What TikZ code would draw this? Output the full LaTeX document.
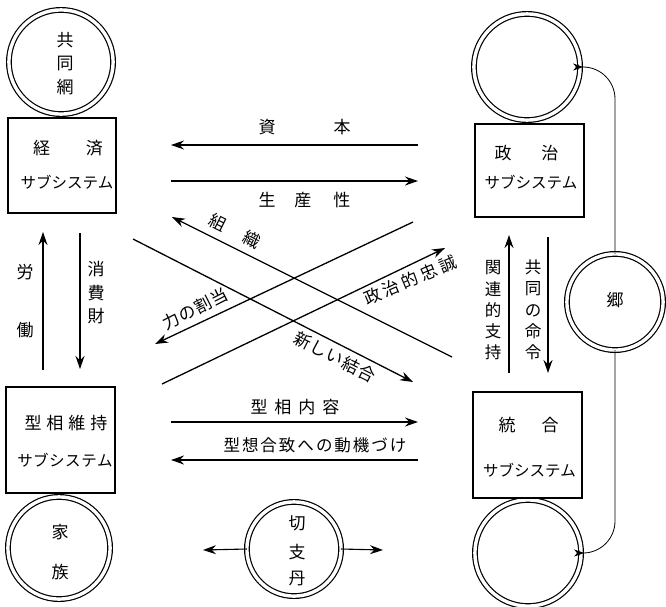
\documentclass[tikz,border=0pt]{standalone}
\usepackage{fontspec}
\newfontfamily\jp{Noto Sans CJK JP}
\usetikzlibrary{arrows.meta}
\begin{document}
\begin{tikzpicture}[x=1pt,y=-1pt,
  ln/.style={line width=1.3pt},
  arr/.style={ln,-{Stealth[length=13pt,width=9pt]}},
  thinarr/.style={line width=0.8pt,-{Stealth[length=10pt,width=7pt,inset=3pt]},rounded corners=32pt},
  dcirc/.style={circle,draw,double,double distance=3.4pt,line width=1.2pt,inner sep=0pt,outer sep=0pt},
  box/.style={draw,rectangle,line width=1.2pt,inner sep=0pt,outer sep=0pt},
  lbl/.style={font=\jp\fontsize{17}{20}\selectfont,inner sep=0pt},
  kana/.style={font=\jp\fontsize{15.5}{18}\selectfont,inner sep=0pt},
  vlbl/.style={font=\jp\fontsize{16.5}{21.25}\selectfont,inner sep=0pt,align=center}]
\useasboundingbox (0,0) rectangle (666,606);

% circles
\node[dcirc,minimum size=104.2pt] (tl) at (61,62) {};
\node[dcirc,minimum size=102.2pt] (bl) at (59,548) {};
\node[dcirc,minimum size=106.2pt] (tr) at (527,67) {};
\node[dcirc,minimum size=106.2pt] (br) at (528,553) {};
\node[dcirc,minimum size=96.2pt] (go) at (615,302) {};
\node[dcirc,minimum size=94.2pt] (ks) at (294,549) {};

% boxes
\node[box,minimum width=108pt,minimum height=95pt] (econ) at (62,165.5) {};
\node[box,minimum width=109pt,minimum height=106pt] (patt) at (60.5,440) {};
\node[box,minimum width=109pt,minimum height=93pt] (pol) at (529.5,170.5) {};
\node[box,minimum width=109pt,minimum height=106pt] (integ) at (527.5,445) {};

% circle texts
\node[lbl] (t1) at (65,40) {共};
\node[lbl] (t2) at (65,63) {同};
\node[lbl] (t3) at (65,87) {網};
\node[lbl] (f1) at (60,532) {家};
\node[lbl] (f2) at (60,572) {族};
\node[lbl] (k1) at (297,523) {切};
\node[lbl] (k2) at (297,552) {支};
\node[lbl] (k3) at (297,578) {丹};
\node[lbl] (gl) at (615,300) {郷};

% box texts
\node[lbl] (e1) at (68,148) {経\hspace{36pt}済};
\node[kana] (e2) at (67,182) {サブシステム};
\node[lbl] (p1) at (66,423) {型\hspace{5pt}相\hspace{5pt}維\hspace{5pt}持};
\node[kana] (p2) at (65,460) {サ\hspace{0.5pt}ブ\hspace{0.5pt}シ\hspace{0.5pt}ス\hspace{0.5pt}テ\hspace{0.5pt}ム};
\node[lbl] (o1) at (526.5,153) {政\hspace{30pt}治};
\node[kana] (o2) at (531,182) {サブシステム};
\node[lbl] (i1) at (528.5,425) {統\hspace{26pt}合};
\node[kana] (i2) at (529.5,470) {サブシステム};

% horizontal arrows
\coordinate (hL1) at (171,145); \coordinate (hR1) at (418,145);
\coordinate (hL2) at (171,181); \coordinate (hR2) at (418,181);
\coordinate (hL3) at (171,422); \coordinate (hR3) at (418,422);
\coordinate (hL4) at (171,460); \coordinate (hR4) at (418,460);
\draw[arr] (hR1) -- (hL1);
\draw[arr] (hL2) -- (hR2);
\draw[arr] (hL3) -- (hR3);
\draw[arr] (hR4) -- (hL4);
\node[lbl] (l1) at (304.5,127) {資\hspace{58pt}本};
\node[lbl] (l2) at (304.5,200) {生\hspace{19pt}産\hspace{22pt}性};
\node[lbl] (l3) at (295,407) {型\hspace{7pt}相\hspace{7pt}内\hspace{7pt}容};
\node[lbl,font=\jp\fontsize{16.5}{20}\selectfont] (l4) at (315,445) {型\hspace{2pt}想\hspace{2pt}合\hspace{2pt}致\hspace{2pt}へ\hspace{2pt}の\hspace{2pt}動\hspace{2pt}機\hspace{2pt}づ\hspace{2pt}け};

% diagonal arrows
\coordinate (dA1) at (452,357); \coordinate (dA2) at (172,217);
\coordinate (dB1) at (133,239); \coordinate (dB2) at (413,382);
\coordinate (dC1) at (162,384); \coordinate (dC2) at (445,248);
\coordinate (dD1) at (413,222); \coordinate (dD2) at (155,344);
\draw[arr] (dA1) -- (dA2);
\draw[arr] (dB1) -- (dB2);
\draw[arr] (dC1) -- (dC2);
\draw[arr] (dD1) -- (dD2);
\node[lbl,rotate=-26.6] (l5) at (235,231) {組\hspace{22pt}織};
\node[lbl,rotate=-26.6] (l6) at (335,357) {新\hspace{1pt}し\hspace{1pt}い\hspace{1pt}結\hspace{1pt}合};
\node[lbl,rotate=27] (l7) at (195,309) {力\hspace{1pt}の\hspace{1pt}割\hspace{1pt}当};
\node[lbl,rotate=23] (l8) at (410,280) {政\hspace{3.4pt}治\hspace{3.4pt}的\hspace{3.4pt}忠\hspace{3.4pt}誠};

% vertical arrows
\coordinate (vA1) at (43,370); \coordinate (vA2) at (43,232);
\coordinate (vB1) at (80,233); \coordinate (vB2) at (80,369);
\coordinate (vC1) at (509,373); \coordinate (vC2) at (509,235);
\coordinate (vD1) at (548,237); \coordinate (vD2) at (548,373);
\draw[arr] (vA1) -- (vA2);
\draw[arr] (vB1) -- (vB2);
\draw[arr] (vC1) -- (vC2);
\draw[arr] (vD1) -- (vD2);
\node[lbl] (w1) at (25,272) {労};
\node[lbl] (w2) at (25,330) {働};
\node[vlbl,font=\jp\fontsize{17}{23.5}\selectfont] (w3) at (96,293) {消\\費\\財};
\node[vlbl] (w4) at (493,310.5) {関\\連\\的\\支\\持};
\node[vlbl] (w5) at (533,310) {共\\同\\の\\命\\令};

% kirishitan arrows
\coordinate (kL) at (203,550); \coordinate (kR) at (383,550);
\draw[arr,line width=1.1pt] (ks.west) -- (kL);
\draw[arr,line width=1.1pt] (ks.east) -- (kR);

% go curves
\draw[thinarr] (go.north) |- ([xshift=3pt]tr.east);
\draw[thinarr] (go.south) |- ([xshift=3pt]br.east);
\end{tikzpicture}
\end{document}
